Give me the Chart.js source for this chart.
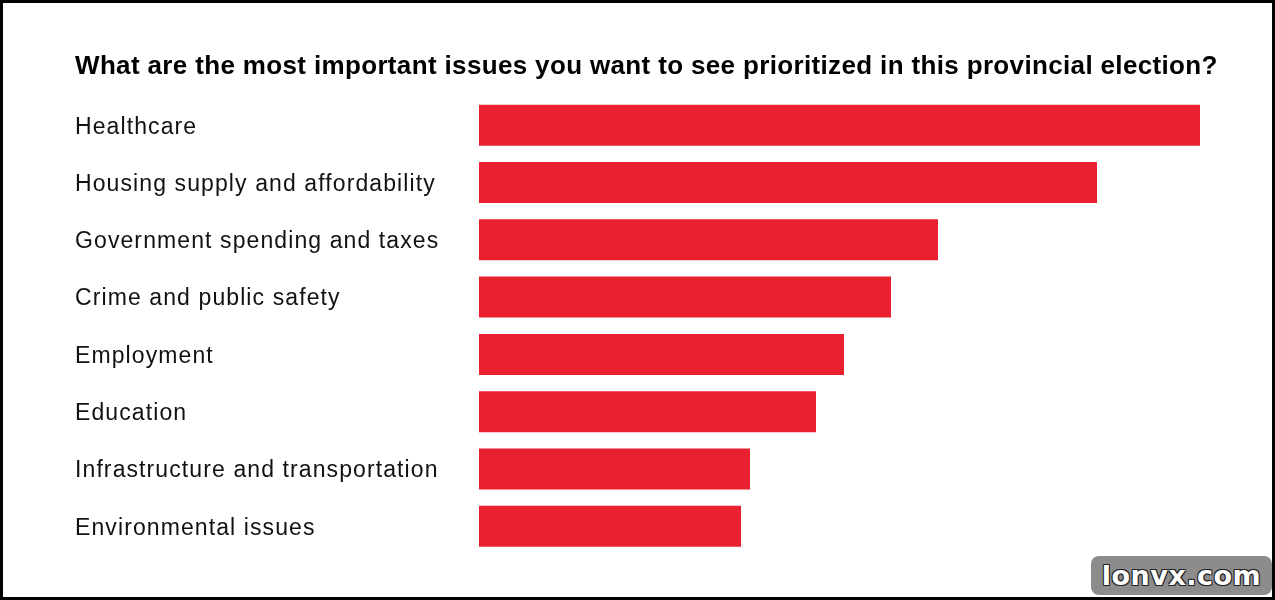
<!DOCTYPE html>
<html>
<head>
<meta charset="utf-8">
<script src="https://cdn.jsdelivr.net/npm/chart.js@4.4.0/dist/chart.umd.min.js"></script>
<style>
    html, body { margin: 0; padding: 0; background: #fff; }
    #wrap { position: relative; width: 1275px; height: 600px; }
    #frame {
        position: absolute; left: 0; top: 0; width: 1275px; height: 600px;
        box-sizing: border-box; border: 3px solid #000; pointer-events: none;
    }
    #mark {
        position: absolute; left: 1091px; top: 556px; width: 181px; height: 39px;
        background: #8c8c8c; border-radius: 8px;
        font: bold 27px "DejaVu Sans", sans-serif; color: #fff; text-align: center;
        line-height: 39px; letter-spacing: 0.5px;
        text-shadow: -1px -1px 0 #222, 1px -1px 0 #222, -1px 1px 0 #222, 1px 1px 0 #222;
    }
</style>
</head>
<body>
<div id="wrap">
    <canvas id="issuesChart" width="1275" height="600"></canvas>
    <div id="frame"></div>
    <div id="mark">lonvx.com</div>
</div>
<script>
// 数据
const titleText = 'What are the most important issues you want to see prioritized in this provincial election?';
const issues = [
    'Healthcare',
    'Housing supply and affordability',
    'Government spending and taxes',
    'Crime and public safety',
    'Employment',
    'Education',
    'Infrastructure and transportation',
    'Environmental issues'
];
const shares = [72.1, 61.8, 45.9, 41.2, 36.5, 33.7, 27.1, 26.2];

const barColor = '#e8202f';
const fontFamily = '"Liberation Sans", Arial, sans-serif';

// 标题和字距插件
const spacingPlugin = {
    id: 'spacing',
    beforeDraw(chart) {
        chart.ctx.letterSpacing = '1.1px';
    },
    afterDraw(chart) {
        const ctx = chart.ctx;
        ctx.save();
        ctx.letterSpacing = '0.35px';
        ctx.font = 'bold 26px ' + fontFamily;
        ctx.fillStyle = '#000';
        ctx.textAlign = 'left';
        ctx.textBaseline = 'alphabetic';
        ctx.fillText(titleText, chart.chartArea.left - 404, 74);
        ctx.restore();
    }
};

function renderChart() {
    const ctx = document.getElementById('issuesChart');

    new Chart(ctx, {
        type: 'bar',
        data: {
            labels: issues,
            datasets: [{
                data: shares,
                backgroundColor: barColor,
                borderWidth: 0,
                barPercentage: 0.715,
                categoryPercentage: 1
            }]
        },
        options: {
            indexAxis: 'y',
            responsive: false,
            animation: false,
            layout: {
                padding: { left: 75, right: 75, top: 96.5, bottom: 45 }
            },
            plugins: {
                legend: { display: false },
                tooltip: { enabled: false },
                title: { display: false }
            },
            scales: {
                x: {
                    display: false,
                    min: 0,
                    max: 72.1
                },
                y: {
                    grid: { display: false },
                    border: { display: false },
                    ticks: {
                        crossAlign: 'far',
                        padding: 0,
                        labelOffset: 2,
                        color: '#111',
                        font: { family: fontFamily, size: 23 }
                    },
                    afterFit: (scale) => { scale.width = 404; }
                }
            }
        },
        plugins: [spacingPlugin]
    });
}

renderChart();
</script>
</body>
</html>
